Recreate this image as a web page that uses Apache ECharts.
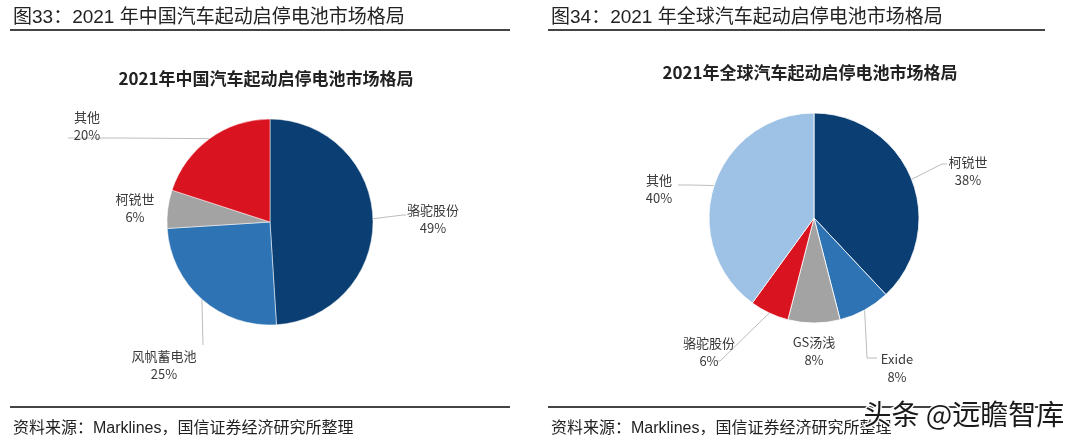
<!DOCTYPE html>
<html>
<head>
<meta charset="utf-8">
<script src="https://cdn.jsdelivr.net/npm/echarts@6/dist/echarts.min.js"></script>
<style>
  html, body { margin: 0; padding: 0; background: #fff; }
  #main { width: 1080px; height: 445px; }
</style>
</head>
<body>
<div id="main"></div>
<script>
// 2021年中国市场
const chinaNames = ['骆驼股份', '风帆蓄电池', '柯锐世', '其他'];
const chinaValues = [49, 25, 6, 20];
// 2021年全球市场
const globalNames = ['柯锐世', 'Exide', 'GS汤浅', '骆驼股份', '其他'];
const globalValues = [38, 8, 8, 6, 40];

const NAVY = '#0b3e72';
const BLUE = '#2e74b5';
const GREY = '#a3a3a3';
const RED = '#da1320';
const LIGHT = '#9ec2e5';

const chinaColors = [NAVY, BLUE, GREY, RED];
const globalColors = [NAVY, BLUE, GREY, RED, LIGHT];

const FONT = '"Noto Sans CJK SC", "Noto Sans", sans-serif';
const HEAD_FONT = '"Liberation Sans", "Noto Sans CJK SC", sans-serif';

// pie geometry and label placement (Excel-like manual label spots)
const leftPie = { cx: 270, cy: 222, r: 103 };
const rightPie = { cx: 814, cy: 218, r: 105 };

const chinaLabelSpots = [
  { x: 433, y: 219, line: [[403, 215], [406, 215]] },
  { x: 164, y: 365, line: [[203, 345], [203, 345]] },
  { x: 135, y: 208, line: null },
  { x: 87, y: 126, line: [[120, 138], [68, 138]] }
];
const globalLabelSpots = [
  { x: 968, y: 171, line: [[942, 164], [947, 164]] },
  { x: 897, y: 368, line: [[867, 358], [877, 358]] },
  { x: 814, y: 351, line: null },
  { x: 709, y: 352, line: [[720, 361], [716, 361]] },
  { x: 659, y: 189, line: [[690, 185], [678, 185]] }
];

function edgePoint(pie, values, idx) {
  const total = values.reduce((a, b) => a + b, 0);
  let cum = 0;
  for (let i = 0; i < idx; i++) cum += values[i];
  const ang = (cum + values[idx] / 2) / total * Math.PI * 2;
  return [pie.cx + pie.r * Math.sin(ang), pie.cy - pie.r * Math.cos(ang)];
}

function makeLayout(pie, values, spots) {
  return function (params) {
    const s = spots[params.dataIndex];
    const out = { x: s.x, y: s.y, align: 'center', verticalAlign: 'middle' };
    if (s.line) {
      const e = params.labelLinePoints ? params.labelLinePoints[0] : edgePoint(pie, values, params.dataIndex);
      out.labelLinePoints = [e, s.line[0], s.line[1]];
    }
    return out;
  };
}

function makeData(names, values, colors, spots) {
  return names.map((n, i) => ({
    name: n,
    value: values[i],
    itemStyle: { color: colors[i] },
    labelLine: { show: !!spots[i].line }
  }));
}

const labelStyle = {
  show: true,
  position: 'outside',
  formatter: '{b}\n{c}%',
  color: '#3a3a3a',
  fontSize: 13,
  lineHeight: 18,
  fontFamily: FONT
};

const chart = echarts.init(document.getElementById('main'));

const option = {
  backgroundColor: '#fff',
  animation: false,
  title: [
    {
      text: '图33：2021 年中国汽车起动启停电池市场格局',
      left: 8, top: 3,
      textStyle: { fontSize: 19, fontWeight: 'normal', color: '#222', fontFamily: HEAD_FONT }
    },
    {
      text: '图34：2021 年全球汽车起动启停电池市场格局',
      left: 546, top: 3,
      textStyle: { fontSize: 19, fontWeight: 'normal', color: '#222', fontFamily: HEAD_FONT }
    },
    {
      text: '2021年中国汽车起动启停电池市场格局',
      left: 261, top: 65, textAlign: 'center',
      textStyle: { fontSize: 17, fontWeight: 'bold', color: '#222', fontFamily: FONT }
    },
    {
      text: '2021年全球汽车起动启停电池市场格局',
      left: 805, top: 59, textAlign: 'center',
      textStyle: { fontSize: 17, fontWeight: 'bold', color: '#222', fontFamily: FONT }
    },
    {
      text: '资料来源：Marklines，国信证券经济研究所整理',
      left: 8, top: 416,
      textStyle: { fontSize: 16, fontWeight: 'normal', color: '#222', fontFamily: HEAD_FONT }
    },
    {
      text: '资料来源：Marklines，国信证券经济研究所整理',
      left: 546, top: 416,
      textStyle: { fontSize: 16, fontWeight: 'normal', color: '#222', fontFamily: HEAD_FONT }
    }
  ],
  graphic: [
    { type: 'line', shape: { x1: 10, y1: 30, x2: 510, y2: 30 }, style: { stroke: '#444', lineWidth: 2 } },
    { type: 'line', shape: { x1: 548, y1: 30, x2: 1045, y2: 30 }, style: { stroke: '#444', lineWidth: 2 } },
    { type: 'line', shape: { x1: 10, y1: 407, x2: 510, y2: 407 }, style: { stroke: '#444', lineWidth: 2 } },
    { type: 'line', shape: { x1: 548, y1: 407, x2: 1045, y2: 407 }, style: { stroke: '#444', lineWidth: 2 } },
    {
      type: 'text', left: 862, top: 399, z: 100,
      style: {
        text: '头条 @远瞻智库', fontSize: 28, fontFamily: FONT,
        fill: '#1a1a1a', stroke: '#fff', lineWidth: 3
      }
    }
  ],
  series: [
    {
      type: 'pie',
      center: [leftPie.cx, leftPie.cy],
      radius: leftPie.r,
      startAngle: 90,
      clockwise: true,
      itemStyle: { borderColor: '#fff', borderWidth: 0.5 },
      label: labelStyle,
      labelLine: { show: true, lineStyle: { color: '#bdbdbd', width: 1 }, smooth: false },
      labelLayout: makeLayout(leftPie, chinaValues, chinaLabelSpots),
      emphasis: { disabled: true },
      data: makeData(chinaNames, chinaValues, chinaColors, chinaLabelSpots)
    },
    {
      type: 'pie',
      center: [rightPie.cx, rightPie.cy],
      radius: rightPie.r,
      startAngle: 90,
      clockwise: true,
      itemStyle: { borderColor: '#fff', borderWidth: 0.8 },
      label: labelStyle,
      labelLine: { show: true, lineStyle: { color: '#bdbdbd', width: 1 }, smooth: false },
      labelLayout: makeLayout(rightPie, globalValues, globalLabelSpots),
      emphasis: { disabled: true },
      data: makeData(globalNames, globalValues, globalColors, globalLabelSpots)
    }
  ]
};

chart.setOption(option);
</script>
</body>
</html>
